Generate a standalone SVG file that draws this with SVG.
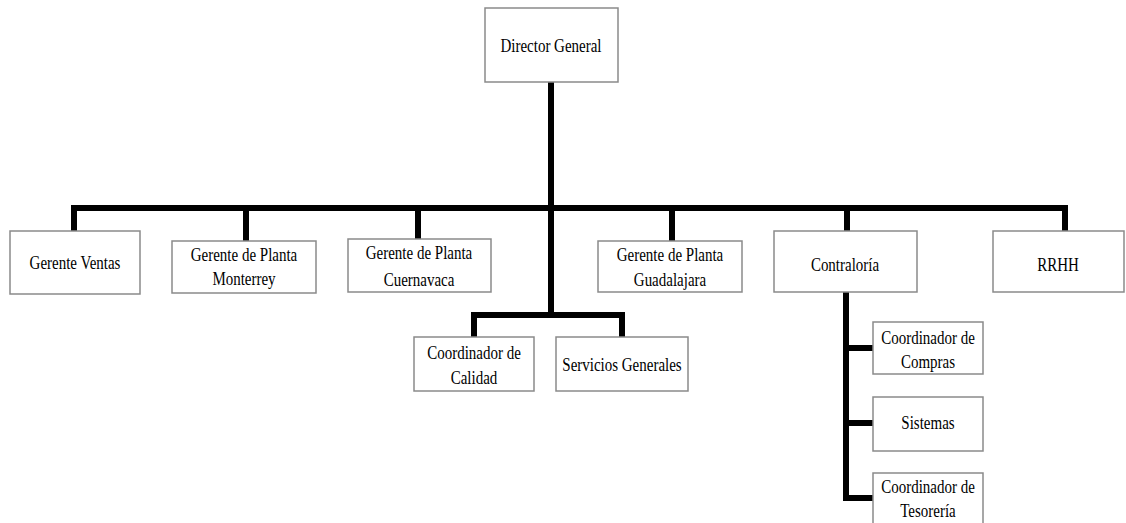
<svg xmlns="http://www.w3.org/2000/svg" width="1126" height="523" viewBox="0 0 1126 523">
<style>
.box{fill:#fff;stroke:#8a8a8a;stroke-width:1.5}
.t{font-family:"Liberation Serif","Times New Roman",serif;font-size:15px;fill:#000;text-anchor:middle}
.c{fill:none;stroke:#000;stroke-width:6}
</style>
<rect width="1126" height="523" fill="#fff"/>
<g id="connectors">
<line class="c" x1="551" y1="82" x2="551" y2="318"/>
<polyline class="c" points="74,231 74,208 1065,208 1065,231"/>
<line class="c" x1="246" y1="208" x2="246" y2="241"/>
<line class="c" x1="418" y1="208" x2="418" y2="239"/>
<line class="c" x1="672" y1="208" x2="672" y2="241"/>
<line class="c" x1="847" y1="208" x2="847" y2="231"/>
<polyline class="c" points="474,337 474,315 622,315 622,337"/>
<line class="c" x1="846" y1="292" x2="846" y2="501"/>
<line class="c" x1="843" y1="348" x2="873" y2="348"/>
<line class="c" x1="843" y1="423" x2="873" y2="423"/>
<line class="c" x1="843" y1="498" x2="873" y2="498"/>
</g>
<g id="director-general"><rect class="box" x="485" y="8" width="133" height="74"/><text class="t" transform="translate(551,52) scale(1,1.3)">Director General</text></g>
<g id="gerente-ventas"><rect class="box" x="10" y="231" width="130" height="63"/><text class="t" transform="translate(75,269) scale(1,1.3)">Gerente Ventas</text></g>
<g id="gerente-monterrey"><rect class="box" x="172" y="241" width="144" height="52"/><text class="t" transform="translate(244,261) scale(1,1.3)">Gerente de Planta</text><text class="t" transform="translate(244,285) scale(1,1.3)">Monterrey</text></g>
<g id="gerente-cuernavaca"><rect class="box" x="348" y="239" width="143" height="53"/><text class="t" transform="translate(419,259) scale(1,1.3)">Gerente de Planta</text><text class="t" transform="translate(419,286) scale(1,1.3)">Cuernavaca</text></g>
<g id="gerente-guadalajara"><rect class="box" x="598" y="241" width="144" height="51"/><text class="t" transform="translate(670,261) scale(1,1.3)">Gerente de Planta</text><text class="t" transform="translate(670,286) scale(1,1.3)">Guadalajara</text></g>
<g id="contraloria"><rect class="box" x="774" y="231" width="143" height="61"/><text class="t" transform="translate(845,271) scale(1,1.3)">Contraloría</text></g>
<g id="rrhh"><rect class="box" x="993" y="231" width="131" height="61"/><text class="t" transform="translate(1058,271) scale(1,1.3)">RRHH</text></g>
<g id="coordinador-calidad"><rect class="box" x="414" y="337" width="120" height="54"/><text class="t" transform="translate(474,359) scale(1,1.3)">Coordinador de</text><text class="t" transform="translate(474,384) scale(1,1.3)">Calidad</text></g>
<g id="servicios-generales"><rect class="box" x="556" y="337" width="132" height="54"/><text class="t" transform="translate(622,371) scale(1,1.3)">Servicios Generales</text></g>
<g id="coordinador-compras"><rect class="box" x="873" y="322" width="110" height="52"/><text class="t" transform="translate(928,344) scale(1,1.3)">Coordinador de</text><text class="t" transform="translate(928,368) scale(1,1.3)">Compras</text></g>
<g id="sistemas"><rect class="box" x="873" y="397" width="110" height="54"/><text class="t" transform="translate(928,429) scale(1,1.3)">Sistemas</text></g>
<g id="coordinador-tesoreria"><rect class="box" x="873" y="473" width="110" height="54"/><text class="t" transform="translate(928,493) scale(1,1.3)">Coordinador de</text><text class="t" transform="translate(928,517) scale(1,1.3)">Tesorería</text></g>
</svg>
